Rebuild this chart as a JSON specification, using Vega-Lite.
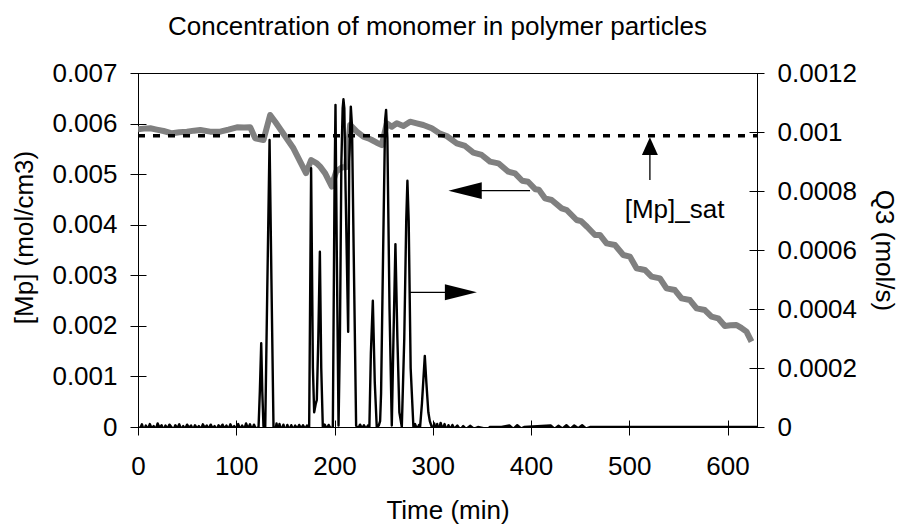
{
  "$schema": "https://vega.github.io/schema/vega-lite/v6.json",
  "width": 619,
  "height": 354,
  "autosize": {"type": "none"},
  "padding": {"left": 138, "top": 73, "right": 142, "bottom": 100},
  "config": {
    "font": "Liberation Sans",
    "view": {"stroke": "black", "strokeWidth": 1},
    "axis": {
      "grid": false,
      "labelFont": "Liberation Sans",
      "labelFontSize": 26,
      "labelColor": "black",
      "titleFont": "Liberation Sans",
      "titleFontSize": 26,
      "titleFontWeight": "normal",
      "titleColor": "black",
      "tickColor": "black",
      "tickWidth": 1,
      "domain": false
    },
    "title": {"font": "Liberation Sans", "fontSize": 26, "fontWeight": "normal", "color": "black"}
  },
  "title": {"text": "Concentration of monomer in polymer particles", "anchor": "middle", "dx": -10, "offset": 20},
  "datasets": {
    "mp": [
      {"t": 0, "v": 0.005887}, {"t": 6, "v": 0.0059}, {"t": 12.5, "v": 0.005907}, {"t": 19, "v": 0.00588},
      {"t": 26, "v": 0.005853}, {"t": 34.6, "v": 0.005808}, {"t": 42, "v": 0.00583}, {"t": 49.8, "v": 0.00584},
      {"t": 57, "v": 0.00586}, {"t": 63.4, "v": 0.005873}, {"t": 73.5, "v": 0.00584}, {"t": 83.7, "v": 0.00584},
      {"t": 92, "v": 0.00588}, {"t": 100.7, "v": 0.005926}, {"t": 108, "v": 0.00592}, {"t": 114.2, "v": 0.005926},
      {"t": 119.3, "v": 0.005709}, {"t": 127.7, "v": 0.005675}, {"t": 134.5, "v": 0.00617}, {"t": 139.6, "v": 0.006037},
      {"t": 158.2, "v": 0.005511}, {"t": 171, "v": 0.00502}, {"t": 176.2, "v": 0.00528}, {"t": 182, "v": 0.005214},
      {"t": 185.4, "v": 0.005148}, {"t": 190.5, "v": 0.005016}, {"t": 197.3, "v": 0.004752}, {"t": 199, "v": 0.004884},
      {"t": 201.7, "v": 0.005049}, {"t": 207.5, "v": 0.005135}, {"t": 211.8, "v": 0.005135}, {"t": 215.9, "v": 0.005972},
      {"t": 222.7, "v": 0.00584}, {"t": 229.4, "v": 0.005741}, {"t": 234.5, "v": 0.005708}, {"t": 238, "v": 0.005675},
      {"t": 243, "v": 0.005622}, {"t": 248.1, "v": 0.005576}, {"t": 253.2, "v": 0.006005}, {"t": 258.3, "v": 0.005939},
      {"t": 263.4, "v": 0.006005}, {"t": 270.1, "v": 0.005952}, {"t": 276.9, "v": 0.006038}, {"t": 283.7, "v": 0.006005},
      {"t": 290.4, "v": 0.005972}, {"t": 299, "v": 0.005906}, {"t": 307.4, "v": 0.0058}, {"t": 314.2, "v": 0.005754},
      {"t": 324.4, "v": 0.005609}, {"t": 332.9, "v": 0.005557}, {"t": 341.3, "v": 0.005425}, {"t": 349.8, "v": 0.005379},
      {"t": 358.3, "v": 0.005247}, {"t": 366.8, "v": 0.005214}, {"t": 376.9, "v": 0.005049}, {"t": 383.7, "v": 0.005016},
      {"t": 391, "v": 0.00487}, {"t": 397, "v": 0.00485}, {"t": 404.5, "v": 0.0047}, {"t": 408, "v": 0.00469},
      {"t": 414.2, "v": 0.004522}, {"t": 421, "v": 0.004489}, {"t": 431.2, "v": 0.004324}, {"t": 436.3, "v": 0.004291},
      {"t": 446.4, "v": 0.004093}, {"t": 451, "v": 0.00407}, {"t": 457, "v": 0.00396}, {"t": 465.1, "v": 0.003797},
      {"t": 470.1, "v": 0.003797}, {"t": 476.9, "v": 0.003632}, {"t": 485.4, "v": 0.003599}, {"t": 493.9, "v": 0.003401},
      {"t": 500.7, "v": 0.003368}, {"t": 507.4, "v": 0.003138}, {"t": 515.9, "v": 0.003105}, {"t": 522.7, "v": 0.002973},
      {"t": 531.2, "v": 0.00294}, {"t": 537.9, "v": 0.002742}, {"t": 546.4, "v": 0.002709}, {"t": 553.2, "v": 0.002544},
      {"t": 561.7, "v": 0.002511}, {"t": 568.5, "v": 0.002346}, {"t": 576.9, "v": 0.002313}, {"t": 583.7, "v": 0.002182},
      {"t": 590.5, "v": 0.002149}, {"t": 597.3, "v": 0.001997}, {"t": 603, "v": 0.00201}, {"t": 609.1, "v": 0.002017},
      {"t": 614, "v": 0.00196}, {"t": 619.3, "v": 0.001885}, {"t": 624.4, "v": 0.001687}
    ],
    "q3": [
      {"t": 0, "q": 0}, {"t": 2, "q": -0.000006}, {"t": 4, "q": 0.000009}, {"t": 6, "q": -0.000012}, {"t": 8, "q": 0.000005},
      {"t": 10, "q": -0.000008}, {"t": 12, "q": 0.00001}, {"t": 14, "q": -0.000005}, {"t": 16, "q": 0.000003}, {"t": 18, "q": -0.000009},
      {"t": 20, "q": 0.000012}, {"t": 22, "q": -0.000003}, {"t": 24, "q": 0.000006}, {"t": 26, "q": -0.00001}, {"t": 28, "q": 0.000005},
      {"t": 30, "q": -0.000006}, {"t": 32, "q": 0.000008}, {"t": 34, "q": 0}, {"t": 36, "q": -0.000009}, {"t": 38, "q": 0.000006},
      {"t": 40, "q": -0.000005}, {"t": 42, "q": 0.000009}, {"t": 44, "q": -0.000008}, {"t": 46, "q": 0.000003}, {"t": 48, "q": -0.000006},
      {"t": 50, "q": 0.000008}, {"t": 52, "q": -0.000003}, {"t": 54, "q": 0.000005}, {"t": 56, "q": -0.000009}, {"t": 58, "q": 0.000006},
      {"t": 60, "q": -0.000005}, {"t": 62, "q": 0.000003}, {"t": 64, "q": -0.000008}, {"t": 66, "q": 0.000009}, {"t": 68, "q": -0.000003},
      {"t": 70, "q": 0.000005}, {"t": 72, "q": -0.000006}, {"t": 74, "q": 0.000008}, {"t": 76, "q": -0.000005}, {"t": 78, "q": 0.000003},
      {"t": 80, "q": -0.000009}, {"t": 82, "q": 0.000006}, {"t": 84, "q": -0.000003}, {"t": 86, "q": 0.000008}, {"t": 88, "q": -0.000006},
      {"t": 90, "q": 0.000005}, {"t": 92, "q": -0.000008}, {"t": 94, "q": 0.000009}, {"t": 96, "q": -0.000005}, {"t": 98, "q": 0.000003},
      {"t": 100, "q": -0.000006}, {"t": 102, "q": 0.00001}, {"t": 104, "q": -0.000008}, {"t": 106, "q": 0.000005}, {"t": 108, "q": -0.000009},
      {"t": 110, "q": 0.000012}, {"t": 112, "q": -0.000006}, {"t": 114, "q": 0.000009}, {"t": 116, "q": -0.00001}, {"t": 118, "q": 0.000008},
      {"t": 120, "q": -0.000006}, {"t": 122.7, "q": 0},
      {"t": 124, "q": 0.00012}, {"t": 125.4, "q": 0.000284}, {"t": 126.5, "q": 0.00012}, {"t": 127.7, "q": 0.000003},
      {"t": 129.5, "q": 0}, {"t": 131.5, "q": 0.00045}, {"t": 133.9, "q": 0.000973}, {"t": 135.8, "q": 0.0005}, {"t": 137.9, "q": 0},
      {"t": 139.5, "q": -0.000015}, {"t": 141, "q": 0.000012}, {"t": 142.5, "q": -0.000016}, {"t": 144, "q": 0.00001}, {"t": 146, "q": -0.000012},
      {"t": 148, "q": 0.000008}, {"t": 150, "q": -0.000014}, {"t": 152, "q": 0.000007}, {"t": 154, "q": -0.00001}, {"t": 156, "q": 0.000006},
      {"t": 158, "q": -0.000008}, {"t": 160, "q": 0.000005}, {"t": 162, "q": -0.000006}, {"t": 164, "q": 0.000007}, {"t": 166, "q": -0.000005},
      {"t": 168, "q": 0.000006}, {"t": 170, "q": -0.000007}, {"t": 172, "q": 0.000005}, {"t": 174.2, "q": 0},
      {"t": 176.2, "q": 0.000877}, {"t": 178, "q": 0.0002}, {"t": 179.3, "q": 0.00005}, {"t": 181, "q": 0.00008}, {"t": 182, "q": 0.0000915},
      {"t": 183.5, "q": 0.0003}, {"t": 185.1, "q": 0.000594}, {"t": 186.5, "q": 0.0002}, {"t": 188.1, "q": 0},
      {"t": 190, "q": 0.000008}, {"t": 192, "q": -0.000006}, {"t": 194, "q": 0.000007}, {"t": 196, "q": -0.000005}, {"t": 198.3, "q": 0},
      {"t": 200, "q": 0.0008}, {"t": 201, "q": 0.001092}, {"t": 202.3, "q": 0.0006}, {"t": 204.1, "q": 0.000005},
      {"t": 205.5, "q": 0.0003}, {"t": 207, "q": 0.0009}, {"t": 208.3, "q": 0.00108}, {"t": 209.1, "q": 0.001111}, {"t": 210, "q": 0.00108},
      {"t": 211.3, "q": 0.0008}, {"t": 213.9, "q": 0.000323}, {"t": 215, "q": 0.0009}, {"t": 216.6, "q": 0.001086}, {"t": 217.8, "q": 0.00102},
      {"t": 219.5, "q": 0.0006}, {"t": 222, "q": 0.000005}, {"t": 224, "q": -0.000006}, {"t": 226, "q": 0.000008}, {"t": 228, "q": -0.000005},
      {"t": 230, "q": 0.000006}, {"t": 232, "q": -0.000007}, {"t": 234, "q": 0.000005}, {"t": 235.5, "q": 0},
      {"t": 237, "q": 0.00025}, {"t": 239, "q": 0.000428}, {"t": 241, "q": 0.00015}, {"t": 243, "q": 0},
      {"t": 245, "q": 0.000005}, {"t": 246.4, "q": 0.00002}, {"t": 247.4, "q": 0.000114}, {"t": 249.5, "q": 0.0006},
      {"t": 251.5, "q": 0.00104}, {"t": 252.5, "q": 0.001075}, {"t": 253.8, "q": 0.00098}, {"t": 256, "q": 0.0004}, {"t": 258.3, "q": 0.000005},
      {"t": 260, "q": 0.0003}, {"t": 262, "q": 0.00062}, {"t": 264, "q": 0.0003}, {"t": 266, "q": 0.00005}, {"t": 268.5, "q": 0},
      {"t": 271, "q": 0.0003}, {"t": 273, "q": 0.0007}, {"t": 274.2, "q": 0.000835}, {"t": 275.5, "q": 0.0007}, {"t": 277.5, "q": 0.0002},
      {"t": 280.3, "q": 0}, {"t": 282, "q": 0.00001}, {"t": 284, "q": -0.000008}, {"t": 286, "q": 0.000007}, {"t": 287.1, "q": 0},
      {"t": 289, "q": 0.00008}, {"t": 291.9, "q": 0.000241}, {"t": 293.5, "q": 0.00015}, {"t": 295.5, "q": 0.00005}, {"t": 297, "q": 0.00002},
      {"t": 299, "q": 0}, {"t": 300, "q": -0.000018}, {"t": 301.5, "q": 0.000012}, {"t": 303, "q": -0.000015}, {"t": 304.5, "q": 0.00001},
      {"t": 306, "q": -0.000013}, {"t": 308, "q": 0.000014}, {"t": 310, "q": -0.000008}, {"t": 312, "q": 0.00001}, {"t": 314, "q": -0.000011},
      {"t": 316, "q": 0.000006}, {"t": 318, "q": -0.000008}, {"t": 320, "q": 0.000007}, {"t": 322, "q": -0.000006}, {"t": 325, "q": 0.000005},
      {"t": 328, "q": -0.000009}, {"t": 331, "q": 0.000003}, {"t": 334, "q": -0.000007}, {"t": 338, "q": 0.000004}, {"t": 342, "q": -0.000006},
      {"t": 346, "q": 0}, {"t": 356, "q": -0.000007}, {"t": 358, "q": 0}, {"t": 370, "q": 0}, {"t": 378, "q": 0.000005},
      {"t": 382, "q": -0.000006}, {"t": 386, "q": 0.000006}, {"t": 390, "q": -0.000005}, {"t": 393, "q": 0}, {"t": 420, "q": 0.000005},
      {"t": 424, "q": -0.000006}, {"t": 428, "q": 0.000004}, {"t": 432, "q": -0.000005}, {"t": 436, "q": 0.000006}, {"t": 440, "q": -0.000006},
      {"t": 444, "q": 0.000005}, {"t": 448, "q": -0.000004}, {"t": 452, "q": 0.000006}, {"t": 456, "q": -0.000005}, {"t": 460, "q": 0},
      {"t": 630, "q": 0}
    ],
    "sat": [{"t1": 0, "t2": 630, "v": 0.00576}],
    "hline": [
      {"t1": 332.9, "t2": 399.0, "v": 0.004673},
      {"t1": 276.9, "t2": 328.6, "v": 0.002664}
    ],
    "leftHead": [{"t": 332.9, "v": 0.004673}],
    "rightHead": [{"t": 328.6, "v": 0.002664}],
    "vline": [{"t": 521.0, "v1": 0.004884, "v2": 0.005553}],
    "upHead": [{"t": 521.0, "v": 0.005553}],
    "label": [{"t": 546.1, "v": 0.004127, "text": "[Mp]_sat"}]
  },
  "layer": [
    {
      "layer": [
        {
          "data": {"name": "mp"},
          "mark": {"type": "line", "color": "#808080", "strokeWidth": 6, "strokeJoin": "round", "clip": true},
          "encoding": {
            "x": {"field": "t", "type": "quantitative", "scale": {"domain": [0, 630], "nice": false, "zero": false},
              "axis": {"title": "Time (min)", "values": [0, 100, 200, 300, 400, 500, 600], "format": "d",
                "offset": -7, "tickSize": 15, "labelPadding": 18, "labelFlush": false,
                "titleBaseline": "alphabetic", "titleY": 98}},
            "y": {"field": "v", "type": "quantitative", "scale": {"domain": [0, 0.007], "nice": false, "zero": false},
              "axis": {"title": "[Mp] (mol/cm3)", "orient": "left", "values": [0, 0.001, 0.002, 0.003, 0.004, 0.005, 0.006, 0.007],
                "format": ".3~f", "offset": -8, "tickSize": 16, "labelPadding": 13,
                "titleBaseline": "alphabetic", "titleX": -114, "titleY": 164, "titleAngle": 270}}
          }
        },
        {
          "data": {"name": "sat"},
          "mark": {"type": "rule", "color": "black", "strokeWidth": 3.5, "strokeDash": [7, 8]},
          "encoding": {
            "x": {"field": "t1", "type": "quantitative"},
            "x2": {"field": "t2"},
            "y": {"field": "v", "type": "quantitative"}
          }
        },
        {
          "data": {"name": "hline"},
          "mark": {"type": "rule", "color": "black", "strokeWidth": 1.3},
          "encoding": {
            "x": {"field": "t1", "type": "quantitative"},
            "x2": {"field": "t2"},
            "y": {"field": "v", "type": "quantitative"}
          }
        },
        {
          "data": {"name": "vline"},
          "mark": {"type": "rule", "color": "black", "strokeWidth": 1.3},
          "encoding": {
            "x": {"field": "t", "type": "quantitative"},
            "y": {"field": "v1", "type": "quantitative"},
            "y2": {"field": "v2"}
          }
        },
        {
          "data": {"name": "leftHead"},
          "mark": {"type": "point", "shape": "M -1 0 L 1 -0.5 L 1 0.5 Z", "size": 1110, "filled": true, "color": "black", "opacity": 1},
          "encoding": {
            "x": {"field": "t", "type": "quantitative"},
            "y": {"field": "v", "type": "quantitative"}
          }
        },
        {
          "data": {"name": "rightHead"},
          "mark": {"type": "point", "shape": "M 1 0 L -1 -0.5 L -1 0.5 Z", "size": 1024, "filled": true, "color": "black", "opacity": 1},
          "encoding": {
            "x": {"field": "t", "type": "quantitative"},
            "y": {"field": "v", "type": "quantitative"}
          }
        },
        {
          "data": {"name": "upHead"},
          "mark": {"type": "point", "shape": "M 0 -1 L -0.9 1 L 0.9 1 Z", "size": 313, "filled": true, "color": "black", "opacity": 1},
          "encoding": {
            "x": {"field": "t", "type": "quantitative"},
            "y": {"field": "v", "type": "quantitative"}
          }
        },
        {
          "data": {"name": "label"},
          "mark": {"type": "text", "font": "Liberation Sans", "fontSize": 26, "color": "black", "align": "center", "baseline": "alphabetic"},
          "encoding": {
            "x": {"field": "t", "type": "quantitative"},
            "y": {"field": "v", "type": "quantitative"},
            "text": {"field": "text"}
          }
        }
      ]
    },
    {
      "data": {"name": "q3"},
      "mark": {"type": "line", "color": "black", "strokeWidth": 2.4, "strokeJoin": "round", "clip": true},
      "encoding": {
        "x": {"field": "t", "type": "quantitative"},
        "y": {"field": "q", "type": "quantitative", "scale": {"domain": [0, 0.0012], "nice": false, "zero": false},
          "axis": {"title": "Q3 (mol/s)", "orient": "right", "values": [0, 0.0002, 0.0004, 0.0006, 0.0008, 0.001, 0.0012],
            "format": ".4~f", "offset": -8, "tickSize": 15, "labelPadding": 13,
            "titleBaseline": "alphabetic", "titleX": 126, "titleY": 177, "titleAngle": 90}}
      }
    }
  ],
  "resolve": {"scale": {"y": "independent"}, "axis": {"y": "independent"}}
}
